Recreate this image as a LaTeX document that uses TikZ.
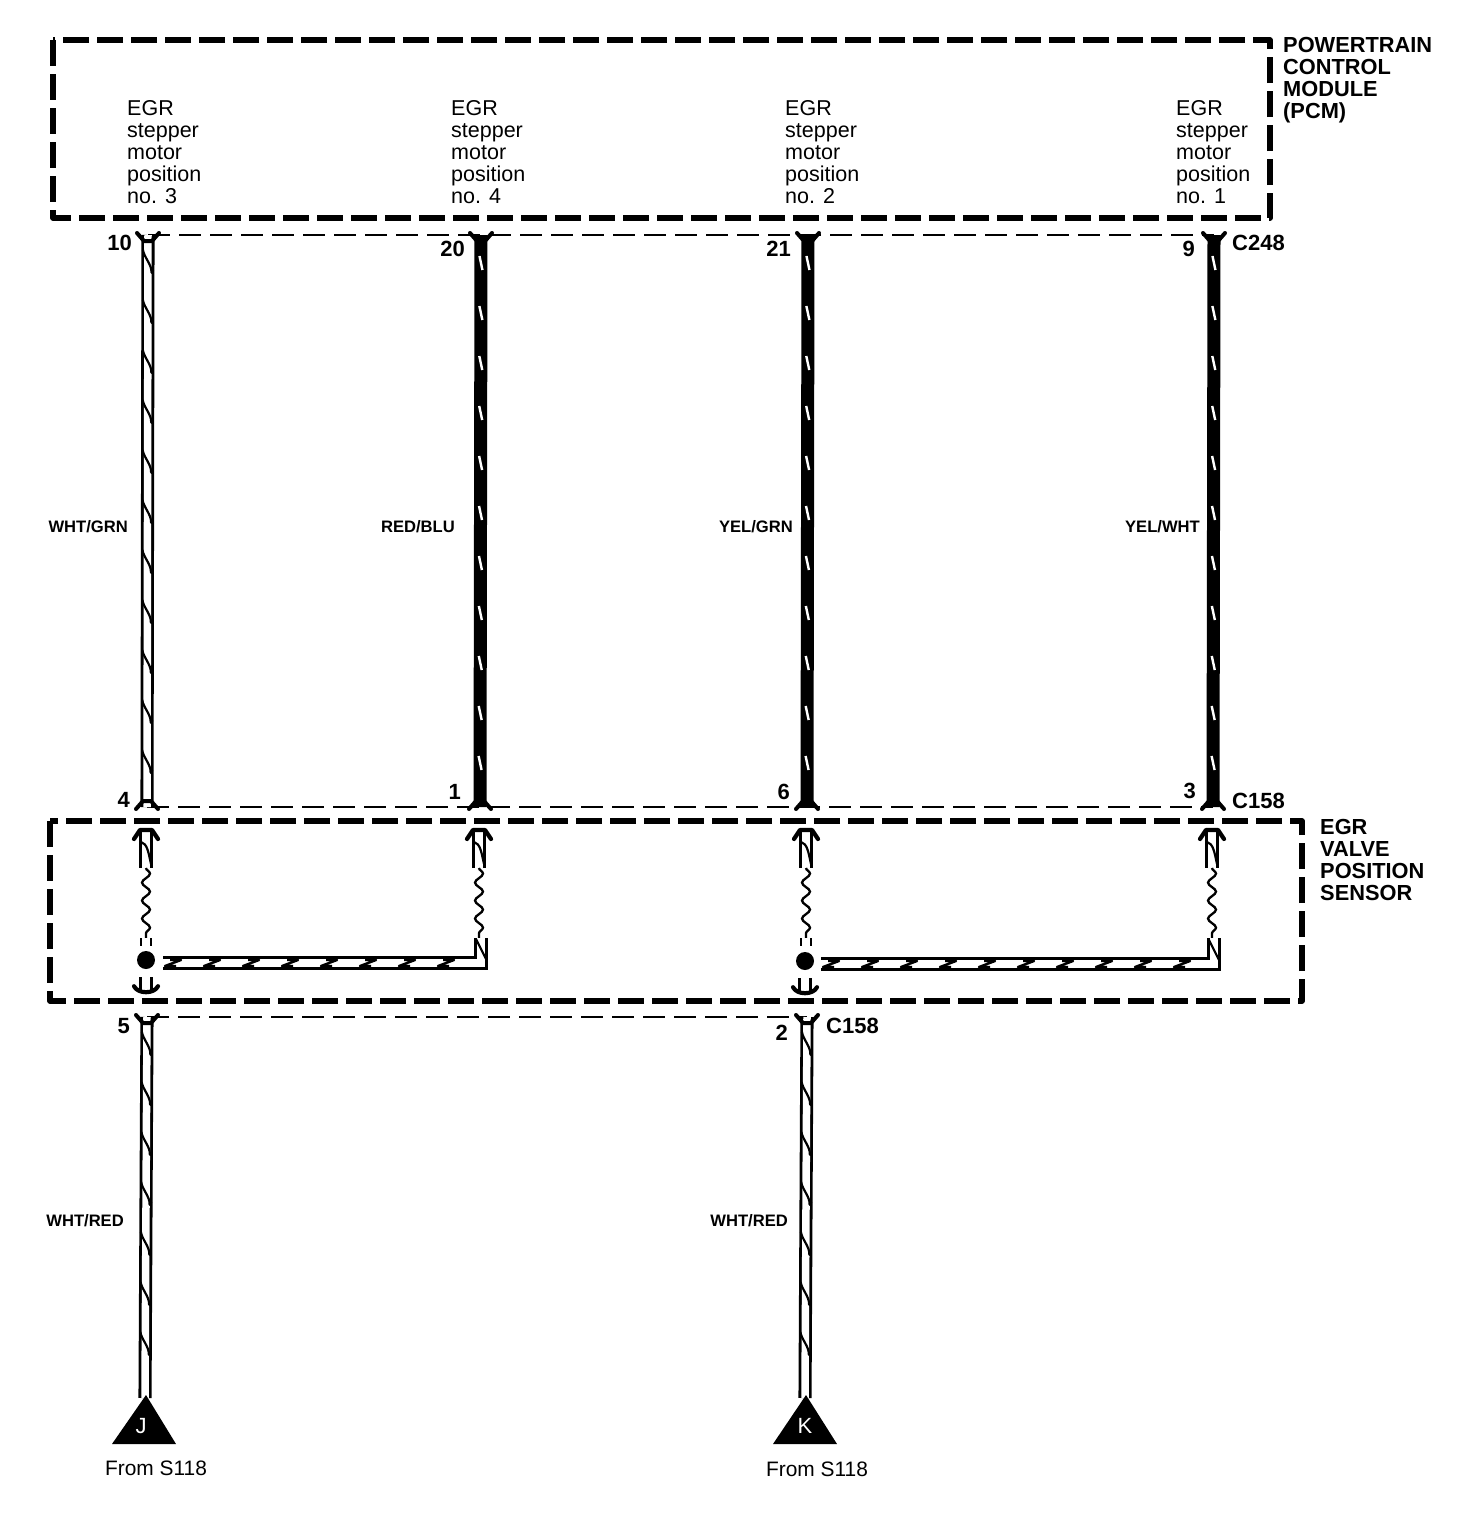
\documentclass[tikz,border=0pt]{standalone}
\usepackage{fontspec}
\setmainfont{Liberation Sans}
\usetikzlibrary{calc,decorations.markings,decorations.pathmorphing}
\tikzset{
  boxline/.style={line width=5.4pt,dash pattern=on 26pt off 8pt,line join=round},
  bus/.style={line width=2.6pt,dash pattern=on 22pt off 9pt},
  lightwire/.style={line width=2.8pt,double=white,double distance=7.5pt,line join=miter},
  darkwire/.style={line width=13pt},
  lightzig/.style={decoration={markings,mark=between positions 28pt and -14pt step 50pt with {
      \draw[line width=2.2pt,line join=round] (-13pt,-5pt) .. controls (-6pt,-4pt) and (2pt,4pt) .. (9pt,3.5pt) .. controls (11pt,3pt) and (10pt,5pt) .. (7pt,5pt);}},decorate},
  darkzig/.style={decoration={markings,mark=between positions 28pt and -14pt step 50pt with {
      \draw[white,line width=2.4pt] (-7pt,-1.5pt) -- (7pt,1.5pt);}},decorate},
  hzig/.style={decoration={markings,mark=between positions 10pt and -6pt step 39pt with {
      \draw[line width=2.4pt,line join=round] (-3pt,3pt) -- (8pt,3pt) -- (-8pt,-3pt) -- (3pt,-3pt);
      }},decorate},
  fork/.style={line width=4pt,line join=round,line cap=round},
  coil/.style={line width=2.3pt,decoration={snake,amplitude=4pt,segment length=18pt},decorate},
  chevron/.style={line width=4.2pt,line join=round,line cap=round},
  txtbase/.style={font=\fontsize{21.5pt}{22pt}\selectfont,inner sep=0pt,align=left},
  boldname/.style={font=\fontsize{21.8pt}{22pt}\selectfont\bfseries,inner sep=0pt,align=left,anchor=north west},
  pinno/.style={font=\fontsize{22pt}{22pt}\selectfont\bfseries,inner sep=0pt},
  wirelabel/.style={font=\fontsize{16.6pt}{18pt}\selectfont\bfseries,inner sep=0pt,anchor=east},
  funcname/.style={txtbase,anchor=north west},
  splice/.style={circle,fill=black,inner sep=0pt,minimum size=18pt},
  fromlabel/.style={font=\fontsize{20.9pt}{22pt}\selectfont,inner sep=0pt},
  termletter/.style={font=\fontsize{22pt}{22pt}\selectfont,text=white,inner sep=0pt},
}
% fork opening upward, on a pin at the top of a wire
\newcommand{\forkdown}[1]{\draw[fork] ([shift={(-11,-2)}]#1) -- ([shift={(-4,6)}]#1) -- ([shift={(4,6)}]#1) -- ([shift={(11,-2)}]#1);}
% fork opening downward, on a pin at the bottom of a wire
\newcommand{\forkup}[1]{\draw[fork] ([shift={(-11,2)}]#1) -- ([shift={(-4,-6)}]#1) -- ([shift={(4,-6)}]#1) -- ([shift={(11,2)}]#1);}
% arrow head pointing up into the connector
\newcommand{\headup}[1]{\draw[chevron] ([shift={(-12,11)}]#1) -- ([shift={(-6,2)}]#1) -- ([shift={(6,2)}]#1) -- ([shift={(12,11)}]#1) ;}
\begin{document}
\begin{tikzpicture}[x=1pt,y=-1pt]
\useasboundingbox (0,0) rectangle (1472,1520);
\fill[white] (0,0) rectangle (1472,1520);

% component outlines
\draw[boxline] (53,40) rectangle (1270,218);
\draw[boxline] (50,821) rectangle (1302,1001);

% pins
\coordinate (t1) at (148,235);  \coordinate (t2) at (481,235);
\coordinate (t3) at (808,235);  \coordinate (t4) at (1214,235);
\coordinate (b1) at (147,807);  \coordinate (b2) at (480,807);
\coordinate (b3) at (807,807);  \coordinate (b4) at (1213,807);
\coordinate (l1) at (147,1017); \coordinate (l2) at (807,1017);
\coordinate (tip1) at (145,1398); \coordinate (tip2) at (805,1398);

% connector lines
\draw[bus] (t1) -- (t4);
\draw[bus] (b1) -- (b4);
\draw[bus] (l1) -- (l2);

% harness wires
\draw[lightwire] (t1) -- (b1);
\path[lightzig] (t1) -- (b1);
\foreach \a/\b in {t2/b2,t3/b3,t4/b4}{
  \draw[darkwire] (\a) -- (\b);
  \path[darkzig] (\a) -- (\b);
}
\foreach \a/\b in {l1/tip1,l2/tip2}{
  \draw[lightwire] (\a) -- (\b);
  \path[lightzig] (\a) -- (\b);
}
\foreach \p in {t1,t2,t3,t4,l1,l2}{\forkdown{\p}}
\foreach \p in {b1,b2,b3,b4}{\forkup{\p}}

% sensor internals
\foreach \n/\x in {a/146,b/479,c/806,d/1212}{
  \coordinate (\n top) at (\x,828);
  \coordinate (\n stem) at (\x,868);
  \coordinate (\n low) at (\x,938);
  \draw[lightwire] (\n top) ++(0,4) -- (\n stem);
  \headup{\n top}
  \draw[line width=2.2pt,line join=round] ([shift={(-5,14)}]\n top) .. controls +(6,2) and +(-3,-14) .. ([shift={(5,36)}]\n top);
  \draw[coil] (\n stem) -- (\n low);
}
\node[splice] (s1) at (146,960) {};
\node[splice] (s2) at (805,961) {};
\coordinate (e1) at (163,963);
\coordinate (e2) at (821,964);
\draw[lightwire] (e1) -- (481,963) -- (481,938);
\path[hzig] (e1) -- (475,963);
\draw[lightwire] (e2) -- (1214,964) -- (1214,938);
\path[hzig] (e2) -- (1208,964);
\foreach \x/\y in {481/963,1214/964}{
  \draw[line width=2.2pt] (\x-5,\y-24) -- (\x+5,\y-4);
}
% stubs and arrows below the splice points
\foreach \n/\s in {a/s1,c/s2}{
  \draw[line width=2.4pt,double=white,double distance=7.5pt] (\n low) -- ++(0,8);
  \draw[lightwire] (\s.south) ++(0,8) -- ++(0,15);
  \draw[chevron] ($(\s.south)+(-12,17)$) .. controls +(4,8) and +(-4,8) .. ($(\s.south)+(12,17)$);
}

% terminals
\fill (tip1) ++(1,-3) -- (176,1444) -- (112,1444) -- cycle;
\fill (tip2) ++(1,-3) -- (837,1444) -- (773,1444) -- cycle;
\node[termletter] (j) at (141,1426) {J};
\node[termletter] (k) at (805,1426) {K};
\node[fromlabel] (f1) at (156,1468) {From S118};
\node[fromlabel] (f2) at (817,1469) {From S118};

% function names
\node[funcname] (n1) at (127,100) {EGR\\stepper\\motor\\position\\no. 3};
\node[funcname] (n2) at (451,100) {EGR\\stepper\\motor\\position\\no. 4};
\node[funcname] (n3) at (785,100) {EGR\\stepper\\motor\\position\\no. 2};
\node[funcname] (n4) at (1176,100) {EGR\\stepper\\motor\\position\\no. 1};
\node[boldname] (pcm) at (1283,37) {POWERTRAIN\\CONTROL\\MODULE\\(PCM)};
\node[boldname] (egr) at (1320,819) {EGR\\VALVE\\POSITION\\SENSOR};

% pin numbers
\node[pinno,anchor=east] (p10) at (132,243) {10};
\node[pinno,anchor=east] (p20) at (465,249) {20};
\node[pinno,anchor=east] (p21) at (791,249) {21};
\node[pinno,anchor=east] (p9) at (1195,249) {9};
\node[pinno,anchor=west] (c248) at (1232,243) {C248};
\node[pinno,anchor=east] (p4) at (130,800) {4};
\node[pinno,anchor=east] (p1) at (461,792) {1};
\node[pinno,anchor=east] (p6) at (790,792) {6};
\node[pinno,anchor=east] (p3) at (1196,791) {3};
\node[pinno,anchor=west] (c158a) at (1232,801) {C158};
\node[pinno,anchor=east] (p5) at (130,1026) {5};
\node[pinno,anchor=east] (p2) at (788,1033) {2};
\node[pinno,anchor=west] (c158b) at (826,1026) {C158};

% wire colours
\node[wirelabel] (w1) at (128,527) {WHT/GRN};
\node[wirelabel] (w2) at (455,527) {RED/BLU};
\node[wirelabel] (w3) at (793,527) {YEL/GRN};
\node[wirelabel] (w4) at (1200,527) {YEL/WHT};
\node[wirelabel] (w5) at (124,1221) {WHT/RED};
\node[wirelabel] (w6) at (788,1221) {WHT/RED};
\end{tikzpicture}
\end{document}
